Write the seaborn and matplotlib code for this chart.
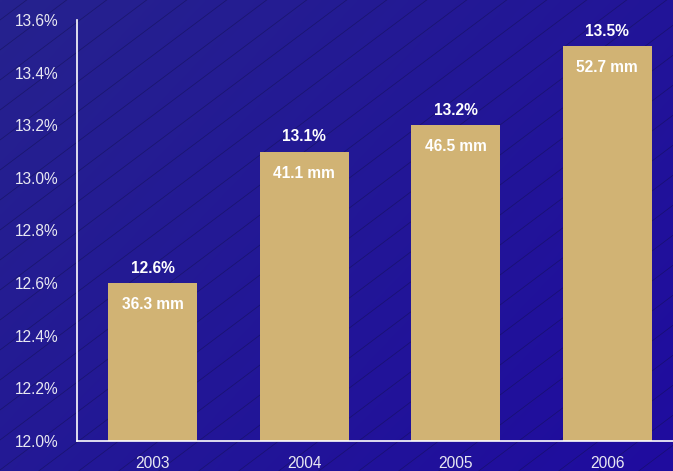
import numpy as np
import matplotlib
matplotlib.use("Agg")
import matplotlib.pyplot as plt
import seaborn as sns
import pandas as pd

years = ["2003", "2004", "2005", "2006"]
pct_values = [12.6, 13.1, 13.2, 13.5]
mm_labels = ["36.3 mm", "41.1 mm", "46.5 mm", "52.7 mm"]
y_ticks = [12.0, 12.2, 12.4, 12.6, 12.8, 13.0, 13.2, 13.4, 13.6]

sns.set_theme(style="white")
plt.rcParams['font.family'] = ['Liberation Sans', 'DejaVu Sans']

W, H = 673, 471
fig = plt.figure(figsize=(W / 100, H / 100), dpi=100)

# background gradient
bg = fig.add_axes([0, 0, 1, 1], zorder=0)
gx = np.linspace(0, 1, 200)
gy = np.linspace(0, 1, 150)
GX, GY = np.meshgrid(gx, gy)
t = (GX * 0.6 + GY * 0.4)
c0 = np.array([0x26, 0x22, 0x8E]) / 255
c1 = np.array([0x1F, 0x0C, 0x9F]) / 255
img = c0[None, None, :] * (1 - t[..., None]) + c1[None, None, :] * t[..., None]
bg.imshow(img, extent=[0, W, H, 0], aspect='auto', interpolation='bilinear')
for c in np.arange(-10, H + 0.75 * W + 40, 30):
    xs = np.array([0, W])
    bg.plot(xs, c - 0.75 * xs, color='#12104a', lw=0.5, alpha=0.55)
bg.set_xlim(0, W)
bg.set_ylim(H, 0)
bg.axis('off')

ax = fig.add_axes([77 / W, 30 / H, 606 / W, 421 / H], zorder=1)
ax.patch.set_alpha(0)
df = pd.DataFrame({"year": years, "pct": pct_values})
sns.barplot(data=df, x="year", y="pct", color="#D1B374", saturation=1,
            width=0.59, ax=ax, zorder=2, edgecolor='none', linewidth=0)
ax.set_xlim(-0.5, 3.5)
ax.set_ylim(12.0, 13.6)
ax.set_yticks(y_ticks)
ax.set_yticklabels([f"{v:.1f}%" for v in y_ticks])
ax.set_xlabel("")
ax.set_ylabel("")
tick_col = '#E8E8F2'
ax.tick_params(axis='y', length=0, pad=13, labelsize=11.2, labelcolor=tick_col)
ax.tick_params(axis='x', length=0, pad=11, labelsize=11.2, labelcolor=tick_col)
for s in ['top', 'right']:
    ax.spines[s].set_visible(False)
for s in ['left', 'bottom']:
    ax.spines[s].set_color('white')
    ax.spines[s].set_linewidth(1.2)

for i, (v, m) in enumerate(zip(pct_values, mm_labels)):
    ax.annotate(f"{v:.1f}%", (i, v), xytext=(0, 10.5), textcoords='offset points',
                ha='center', va='center', color='white', fontsize=11.2, fontweight='bold')
    ax.annotate(m, (i, v), xytext=(0, -15.5), textcoords='offset points',
                ha='center', va='center', color='white', fontsize=11.2, fontweight='bold')

fig.savefig("out.png", dpi=100)
